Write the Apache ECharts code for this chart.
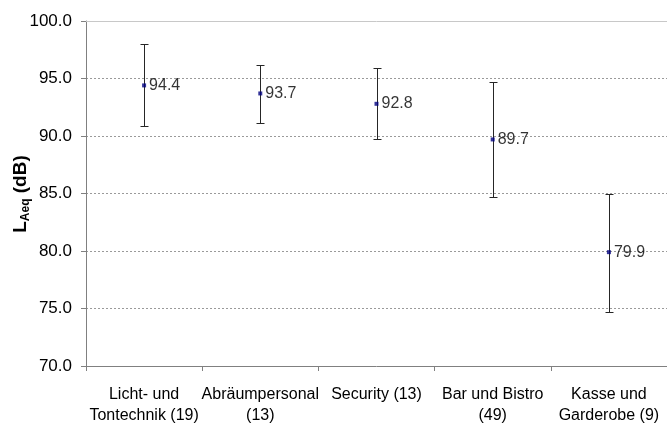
<!DOCTYPE html>
<html>
<head>
<meta charset="utf-8">
<script src="https://cdn.jsdelivr.net/npm/echarts@6/dist/echarts.min.js"></script>
<style>
  html, body { margin: 0; padding: 0; background: #fff; }
  #chart { width: 667px; height: 426px; }
</style>
</head>
<body>
<div id="chart"></div>
<script>
// Workplace groups (number of measurements in brackets)
const categories = [
  'Licht- und\nTontechnik (19)',
  'Abräumpersonal\n(13)',
  'Security (13)',
  'Bar und Bistro\n(49)',
  'Kasse und\nGarderobe (9)'
];
// Mean level LAeq in dB and the range bounds of each group
const means = [94.4, 93.7, 92.8, 89.7, 79.9];
const upper = [98.0, 96.2, 95.9, 94.7, 85.0];
const lower = [90.9, 91.1, 89.7, 84.7, 74.7];

const yMin = 70, yMax = 100, yStep = 5;

const FONT = '"Liberation Sans", Arial, sans-serif';

const rangeData = categories.map((c, i) => [i, lower[i], upper[i]]);
const meanData = categories.map((c, i) => [i, means[i]]);

const chart = echarts.init(document.getElementById('chart'), null, { renderer: 'canvas' });

chart.setOption({
  animation: false,
  backgroundColor: '#ffffff',
  grid: { left: 86, right: -5, top: 21, bottom: 59, containLabel: false },
  xAxis: [{
    type: 'category',
    data: categories,
    boundaryGap: true,
    axisLine: { lineStyle: { color: '#808080', width: 1 } },
    axisTick: { show: true, length: 5, lineStyle: { color: '#808080' } },
    axisLabel: {
      color: '#000', fontFamily: FONT, fontSize: 16, lineHeight: 21,
      margin: 18, interval: 0
    },
    splitLine: { show: false }
  }, {
    // thin frame line along the top of the plot
    type: 'category',
    data: categories,
    position: 'top',
    axisLine: { lineStyle: { color: '#c8c8c8', width: 1 } },
    axisTick: { show: false },
    axisLabel: { show: false }
  }],
  yAxis: {
    type: 'value',
    min: yMin, max: yMax, interval: yStep,
    axisLine: { show: true, lineStyle: { color: '#808080', width: 1 } },
    axisTick: { show: true, length: 5, lineStyle: { color: '#808080' } },
    axisLabel: {
      color: '#000', fontFamily: FONT, fontSize: 17, margin: 14,
      formatter: v => v.toFixed(1)
    },
    splitLine: {
      show: true,
      lineStyle: { color: '#9a9a9a', type: [2, 2], width: 1 }
    }
  },
  graphic: [{
    type: 'text',
    x: 21, y: 194,
    rotation: Math.PI / 2,
    style: {
      text: '{b|L}{s|Aeq}{b| (dB)}',
      align: 'center', verticalAlign: 'middle',
      textAlign: 'center', textVerticalAlign: 'middle',
      rich: {
        b: { fontFamily: FONT, fontSize: 19, fontWeight: 'bold', fill: '#000', color: '#000', lineHeight: 22 },
        s: { fontFamily: FONT, fontSize: 12, fontWeight: 'bold', fill: '#000', color: '#000', lineHeight: 13, verticalAlign: 'bottom' }
      }
    }
  }],
  series: [{
    type: 'custom',
    name: 'range',
    data: rangeData,
    z: 2,
    renderItem: function (params, api) {
      const i = api.value(0);
      const lo = api.coord([i, api.value(1)]);
      const hi = api.coord([i, api.value(2)]);
      const x = Math.round(lo[0]) + 0.5;
      const yl = Math.round(lo[1]) + 0.5;
      const yh = Math.round(hi[1]) + 0.5;
      const cap = 4;
      const style = { stroke: '#262626', lineWidth: 1 };
      return {
        type: 'group',
        children: [
          { type: 'line', shape: { x1: x, y1: yh, x2: x, y2: yl }, style: style },
          { type: 'line', shape: { x1: x - cap, y1: yh, x2: x + cap, y2: yh }, style: style },
          { type: 'line', shape: { x1: x - cap, y1: yl, x2: x + cap, y2: yl }, style: style }
        ]
      };
    }
  }, {
    type: 'scatter',
    name: 'mean',
    data: meanData,
    z: 3,
    symbol: 'rect',
    symbolSize: 4,
    itemStyle: { color: '#000080' },
    label: {
      show: true,
      position: 'right',
      distance: 3,
      color: '#000',
      fontFamily: FONT,
      fontSize: 16,
      formatter: p => p.value[1].toFixed(1)
    }
  }]
});
</script>
</body>
</html>
